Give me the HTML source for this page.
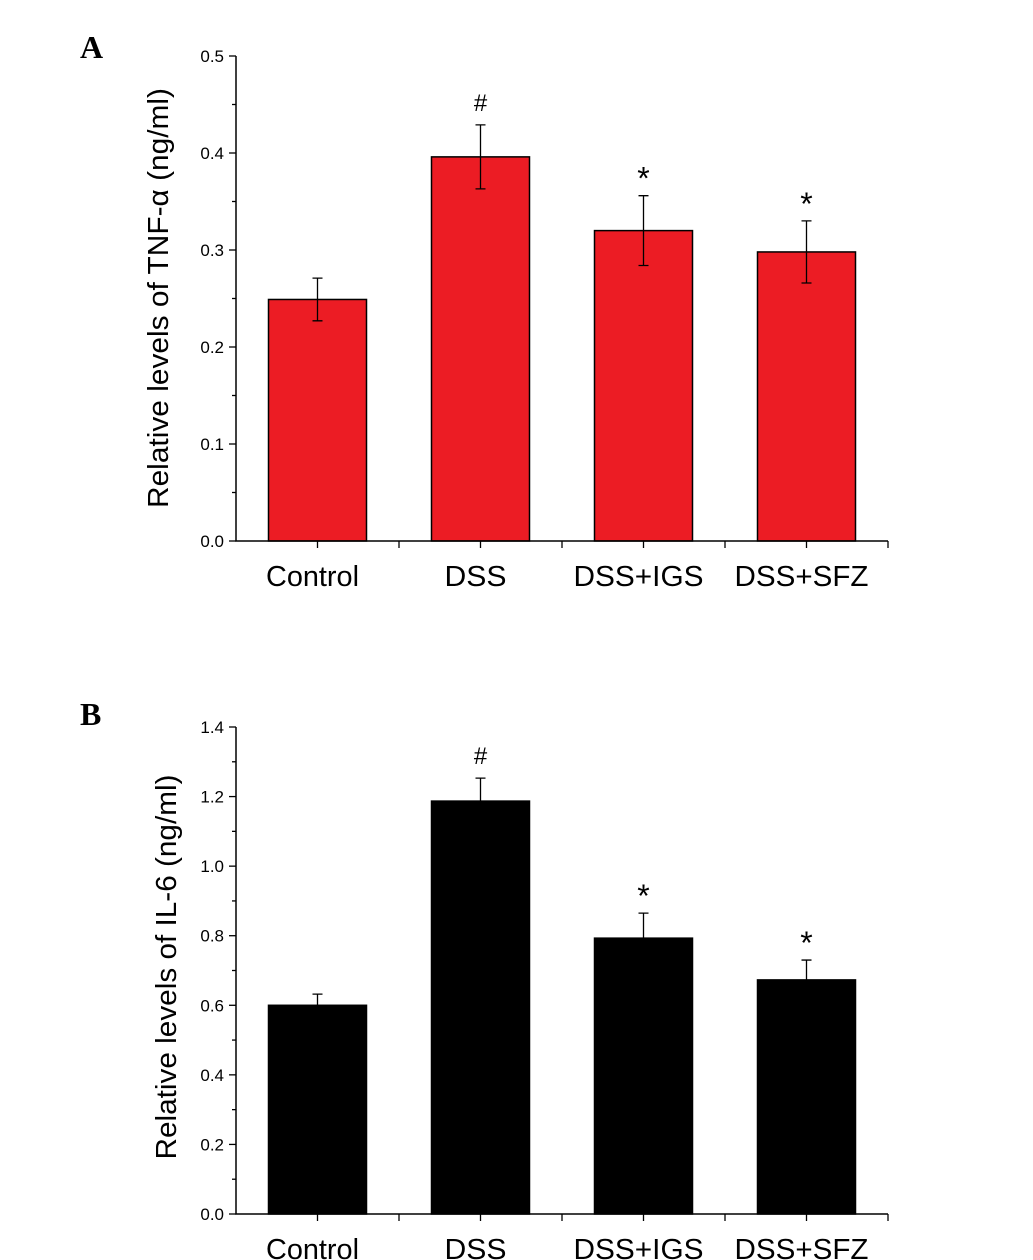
<!DOCTYPE html>
<html><head><meta charset="utf-8"><style>
body{margin:0;background:#fff}
svg{display:block;font-family:"Liberation Sans",Arial,sans-serif}
</style></head><body>
<svg id="s" width="1033" height="1260" viewBox="0 0 1033 1260" xmlns="http://www.w3.org/2000/svg">
<text x="80" y="58" font-family="Liberation Serif,serif" font-weight="bold" font-size="32">A</text>
<text x="80" y="725" font-family="Liberation Serif,serif" font-weight="bold" font-size="32">B</text>
<g id="ga"></g>
<g id="gb"></g>
</svg>
<script>
const categories=["Control","DSS","DSS+IGS","DSS+SFZ"];
const tnfValues=[0.249,0.396,0.320,0.298];
const tnfErr=[0.022,0.033,0.036,0.032];
const tnfMarks=["","#","*","*"];
const tnfTicks=["0.0","0.1","0.2","0.3","0.4","0.5"];
const il6Values=[0.600,1.187,0.793,0.673];
const il6Err=[0.032,0.066,0.072,0.057];
const il6Marks=["","#","*","*"];
const il6Ticks=["0.0","0.2","0.4","0.6","0.8","1.0","1.2","1.4"];
const NS="http://www.w3.org/2000/svg";
function mk(p,t,a){const e=document.createElementNS(NS,t);for(const k in a)e.setAttribute(k,a[k]);p.appendChild(e);return e;}
function draw(g,o){
  const x0=236,x1=888,y0=o.y0,y1=o.y1,max=o.max;
  const y=v=>y0-(v/max)*(y0-y1);
  const step=(x1-x0)/4;
  const cx=i=>x0+step*(i+0.5);
  const bw=98;
  o.values.forEach((v,i)=>{
    const r=mk(g,'rect',{x:cx(i)-bw/2,y:y(v),width:bw,height:y0-y(v),fill:o.fill,stroke:'#000','stroke-width':1.5});
    
    
    const e=o.err[i],c=cx(i);
    const eb=mk(g,'path',{d:`M${c} ${y(v+e)}V${y(v-e)}M${c-5} ${y(v+e)}H${c+5}M${c-5} ${y(v-e)}H${c+5}`,stroke:'#000','stroke-width':1.3,fill:'none'});
    
    
    if(o.marks[i]){
      const t=mk(g,'text',{x:c,y:y(v+e)-(o.marks[i]=='*'?6:14),'text-anchor':'middle','font-size':o.marks[i]=='*'?32:24});
      t.textContent=o.marks[i];
      
      
    }
    const l=mk(g,'text',{x:c-5,y:y0+45,'text-anchor':'middle','font-size':29,textLength:[93,62,130,134][i],lengthAdjust:'spacingAndGlyphs'});
    l.textContent=categories[i];
    
    
    mk(g,'line',{x1:c,x2:c,y1:y0,y2:y0+7,stroke:'#000','stroke-width':1.3});
    mk(g,'line',{x1:x0+step*(i+1),x2:x0+step*(i+1),y1:y0,y2:y0+7,stroke:'#000','stroke-width':1.3});
  });
  const ax=mk(g,'path',{d:`M${x0} ${y1}V${y0}H${x1}`,stroke:'#000','stroke-width':1.5,fill:'none'});
  
  
  const n=o.ticks.length-1;
  o.ticks.forEach((t,i)=>{
    const v=max*i/n,yy=y(v);
    mk(g,'line',{x1:x0-7,x2:x0,y1:yy,y2:yy,stroke:'#000','stroke-width':1.3});
    if(i<n){const ym=y(v+max/n/2);mk(g,'line',{x1:x0-4,x2:x0,y1:ym,y2:ym,stroke:'#000','stroke-width':1.3});}
    const tx=mk(g,'text',{x:x0-12,y:yy+6,'text-anchor':'end','font-size':17});
    tx.textContent=t;
    
    
  });
  const tt=mk(g,'text',{x:0,y:0,'text-anchor':'middle','font-size':29,textLength:o.tl,lengthAdjust:'spacingAndGlyphs',transform:`translate(${o.tx},${o.ty}) rotate(-90)`});
  tt.textContent=o.title;
  
  
}
draw(document.getElementById('ga'),{y0:541,y1:56,max:0.5,values:tnfValues,err:tnfErr,marks:tnfMarks,ticks:tnfTicks,fill:'#ec1c24',title:'Relative levels of TNF-α (ng/ml)',tx:168,ty:298,tl:420});
draw(document.getElementById('gb'),{y0:1214,y1:727,max:1.4,values:il6Values,err:il6Err,marks:il6Marks,ticks:il6Ticks,fill:'#000',title:'Relative levels of IL-6 (ng/ml)',tx:176,ty:967,tl:385});
</script>
</body></html>
